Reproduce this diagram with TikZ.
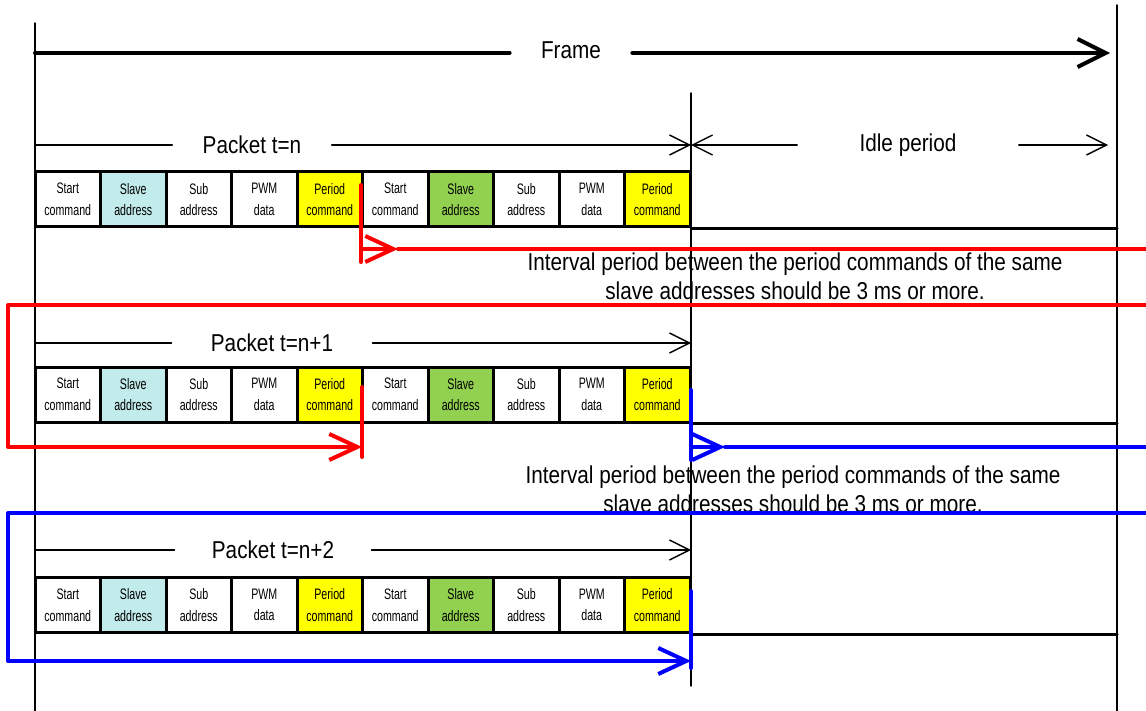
\documentclass[tikz,border=0pt]{standalone}
\usepackage{fontspec}
\setmainfont{Liberation Sans}
\newfontfamily\cellfont{Liberation Sans}[FakeStretch=0.7]
\newfontfamily\lblfont{Liberation Sans}[FakeStretch=0.85]
\usetikzlibrary{arrows.meta}
\definecolor{slaveA}{RGB}{194,235,235}
\definecolor{slaveB}{RGB}{146,208,80}
\definecolor{periodY}{RGB}{255,255,0}
\begin{document}
\begin{tikzpicture}[x=0.5pt, y=-0.5pt, line join=round, line cap=round,
	cell/.style={draw, line width=1.5pt, minimum width=32.75pt, minimum height=27.5pt, inner sep=0pt, align=center, font=\cellfont\fontsize{7.6}{10.8}\selectfont},
	lbl/.style={inner sep=0pt, font=\lblfont\fontsize{12.2}{14.5}\selectfont},
	thin/.style={line width=0.7pt},
	tip/.style={-{Straight Barb[length=10pt, width=10pt]}},
	redline/.style={draw=red, line width=2pt},
	blueline/.style={draw=blue, line width=2pt},
	bigtip/.style={-{Straight Barb[length=14pt, width=13pt]}}]
	\useasboundingbox (0,0) rectangle (1146,711);
	\def\xl{35} \def\xm{691} \def\xr{1117} \def\xe{1146}
	\coordinate (lt) at (\xl,23); \coordinate (lb) at (\xl,711);
	\coordinate (mt) at (\xm,93); \coordinate (mb) at (\xm,686);
	\coordinate (rt) at (\xr,5); \coordinate (rb) at (\xr,711);
	\draw[thin] (lt) -- (lb) (mt) -- (mb) (rt) -- (rb);
	\node[lbl, inner xsep=15.5pt] (frame) at (571,50) {Frame};
	\coordinate (fs) at (\xl,53); \coordinate (fe) at (1110,53);
	\draw[line width=2pt] (fs) -- (frame.west |- fs);
	\draw[line width=2pt, -{Straight Barb[length=14pt, width=14pt]}] (frame.east |- fe) -- (fe);
	\foreach \r/\y/\py/\px/\gap in {1/199.5/145/252/15, 2/394.5/343/272/19.5, 3/605/550/273/18.5}{
		\foreach \t/\f [count=\i] in {Start\\command/white, Slave\\address/slaveA, Sub\\address/white, PWM\\data/white, Period\\command/periodY, Start\\command/white, Slave\\address/slaveB, Sub\\address/white, PWM\\data/white, Period\\command/periodY}
			\node[cell, fill=\f] (r\r c\i) at ({\xl+65.5*(\i-0.5)},\y) {\t};
		\draw[line width=1.5pt] (r\r c10.south east) -- (r\r c10.south east -| rb);
		\node[lbl, inner xsep=\gap pt] (pk\r) at (\px,\py) {Packet t=n\ifnum\r>1 +\the\numexpr\r-1\relax\fi};
		\coordinate (ps\r) at (\xl,\py); \coordinate (pe\r) at (\xm,\py);
		\draw[thin] (ps\r) -- (ps\r -| pk\r.west);
		\draw[thin, tip] (pe\r -| pk\r.east) -- (pe\r);
	}
	\node[lbl, inner xsep=31pt] (idle) at (908,145) {Idle period};
	\coordinate (ie) at (1108,145);
	\draw[thin, tip] (idle.west |- pe1) -- (pe1);
	\draw[thin, tip] (idle.east |- ie) -- (ie);
	\node[lbl, align=center, anchor=north] (note1) at (795,252) {Interval period between the period commands of the same\\slave addresses should be 3 ms or more.};
	\node[lbl, align=center, anchor=north] (note2) at (793,465) {Interval period between the period commands of the same\\slave addresses should be 3 ms or more.};
	\draw[redline] (361,185) -- (361,262);
	\draw[redline, bigtip] (361,249) -- (398,249);
	\draw[redline] (398,249) -- (\xe,249);
	\draw[redline, bigtip] (\xe,305) -- (8,305) -- (8,447) -- (362,447);
	\draw[redline] (362,387) -- (362,457);
	\draw[blueline] (\xm,390) -- (\xm,460);
	\draw[blueline, bigtip] (\xm,447) -- (725,447);
	\draw[blueline] (725,447) -- (\xe,447);
	\draw[blueline, bigtip] (\xe,513) -- (8,513) -- (8,661) -- (\xm,661);
	\draw[blueline] (\xm,591) -- (\xm,668);
\end{tikzpicture}
\end{document}
